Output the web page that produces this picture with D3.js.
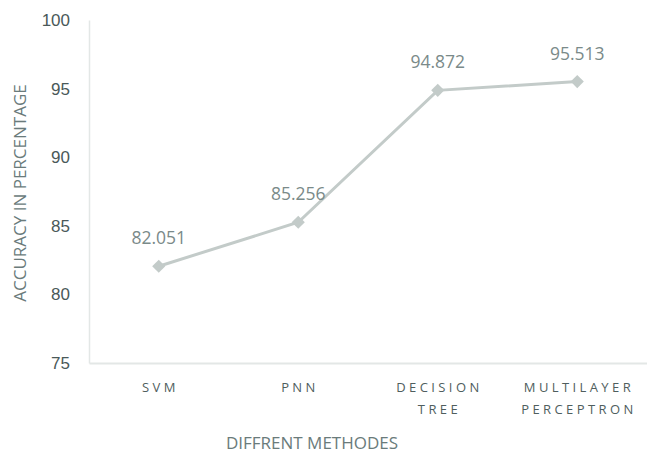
<!DOCTYPE html>
<html>
<head>
<meta charset="UTF-8">
<style>
  body { margin: 0; background: #fff; }
  svg { display: block; font-family: "Open Sans", sans-serif; }
</style>
<script src="https://d3js.org/d3.v7.min.js"></script>
</head>
<body>
<script>
const categories = [["SVM"], ["PNN"], ["DECISION", "TREE"], ["MULTILAYER", "PERCEPTRON"]];
const values = [82.051, 85.256, 94.872, 95.513];
const yTicks = [75, 80, 85, 90, 95, 100];

const width = 647, height = 454;
const plotLeft = 89, plotRight = 647, plotTop = 20, plotBottom = 363;

const svg = d3.select("body").append("svg")
    .attr("width", width)
    .attr("height", height);

const x = d3.scaleBand()
    .domain(d3.range(categories.length))
    .range([plotLeft, plotRight]);

const y = d3.scaleLinear()
    .domain([75, 100])
    .range([plotBottom, plotTop]);

// y axis
const yAxis = svg.append("g")
    .attr("transform", `translate(${plotLeft},0)`)
    .call(d3.axisLeft(y).tickValues(yTicks).tickSize(0).tickPadding(19));
yAxis.select(".domain").attr("stroke", "#e3e7e6").attr("stroke-width", 1.5);
yAxis.selectAll("text")
    .attr("font-size", 17)
    .attr("fill", "#4a5959");

// x axis
const xAxis = svg.append("g")
    .attr("transform", `translate(0,${plotBottom})`)
    .call(d3.axisBottom(x).tickSize(0).tickFormat(""));
xAxis.select(".domain").attr("stroke", "#e3e7e6").attr("stroke-width", 2);

// category labels
const cat = svg.append("g").selectAll("text")
    .data(categories)
    .join("text")
    .attr("text-anchor", "middle")
    .attr("font-size", 13)
    .attr("letter-spacing", 3.4)
    .attr("fill", "#4f5e5e");
cat.each(function(lines, i) {
    const t = d3.select(this);
    lines.forEach((s, j) => {
        t.append("tspan")
            .attr("x", x(i) + x.bandwidth() / 2 + 1.7)
            .attr("y", 392 + j * 22)
            .text(s);
    });
});

// line
const line = d3.line()
    .x((d, i) => x(i) + x.bandwidth() / 2)
    .y(d => y(d));

svg.append("path")
    .datum(values)
    .attr("d", line)
    .attr("fill", "none")
    .attr("stroke", "#c3cbc9")
    .attr("stroke-width", 3);

svg.append("g").selectAll("path")
    .data(values)
    .join("path")
    .attr("d", d3.symbol(d3.symbolDiamond2, 110))
    .attr("transform", (d, i) => `translate(${x(i) + x.bandwidth() / 2},${y(d)})`)
    .attr("fill", "#c3cbc9");

// data labels
svg.append("g").selectAll("text")
    .data(values)
    .join("text")
    .attr("x", (d, i) => x(i) + x.bandwidth() / 2)
    .attr("y", d => y(d) - 22)
    .attr("text-anchor", "middle")
    .attr("font-size", 17.5)
    .attr("fill", "#7a8a89")
    .text(d => d.toFixed(3));

// axis titles
svg.append("text")
    .attr("transform", "translate(26,193) rotate(-90)")
    .attr("text-anchor", "middle")
    .attr("font-size", 17)
    .attr("fill", "#6a7b7b")
    .text("ACCURACY IN PERCENTAGE");

svg.append("text")
    .attr("x", 312)
    .attr("y", 449)
    .attr("text-anchor", "middle")
    .attr("font-size", 17)
    .attr("fill", "#6a7b7b")
    .text("DIFFRENT METHODES");
</script>
</body>
</html>
